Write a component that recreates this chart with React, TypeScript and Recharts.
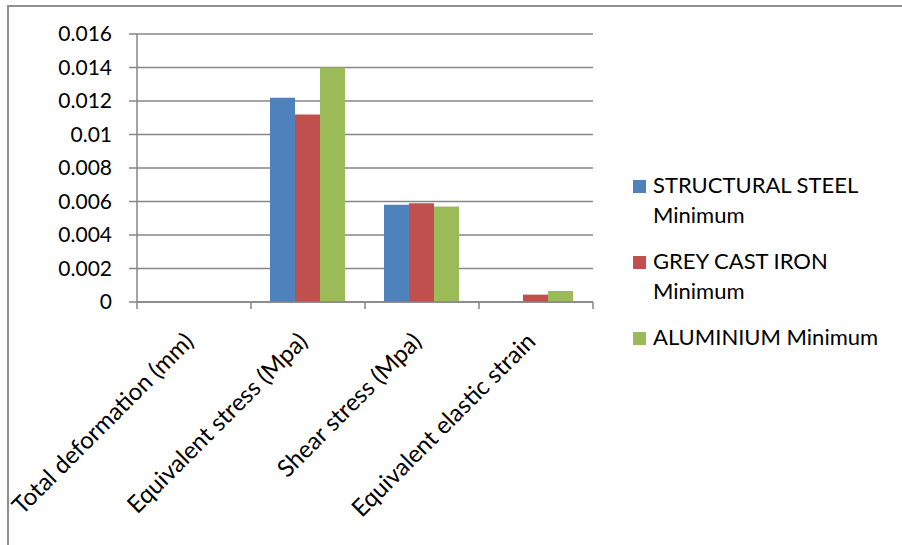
import { BarChart, Bar, CartesianGrid, Legend, XAxis, YAxis } from 'recharts'

const CATEGORIES = [
  'Total deformation (mm)',
  'Equivalent stress (Mpa)',
  'Shear stress (Mpa)',
  'Equivalent elastic strain',
]
const STRUCTURAL_STEEL = [0, 0.0122, 0.0058, 0]
const GREY_CAST_IRON = [0, 0.0112, 0.0059, 0.00044]
const ALUMINIUM = [0, 0.014, 0.0057, 0.00066]
const Y_TICKS = [0, 0.002, 0.004, 0.006, 0.008, 0.01, 0.012, 0.014, 0.016]

const SERIES = [
  { key: 'steel', name: 'STRUCTURAL STEEL Minimum', color: '#4F81BD', values: STRUCTURAL_STEEL },
  { key: 'iron', name: 'GREY CAST IRON Minimum', color: '#C0504D', values: GREY_CAST_IRON },
  { key: 'alu', name: 'ALUMINIUM Minimum', color: '#9BBB59', values: ALUMINIUM },
]

const data = CATEGORIES.map((category, i) => {
  const row: Record<string, string | number> = { category }
  SERIES.forEach((s) => {
    row[s.key] = s.values[i]
  })
  return row
})

const FONT = 'Lato, "Open Sans", sans-serif'
const AXIS = '#868686'
const PLOT_LEFT = 137
const PLOT_RIGHT = 593
const BAND = (PLOT_RIGHT - PLOT_LEFT) / CATEGORIES.length

function CategoryTick(props: any) {
  const { x, y, payload, index } = props
  const left = x - BAND / 2
  const tx = x + 1
  const ty = y + 41
  return (
    <g>
      <line x1={left} y1={y} x2={left} y2={y + 7} stroke={AXIS} strokeWidth={1.5} />
      {index === CATEGORIES.length - 1 && (
        <line x1={x + BAND / 2} y1={y} x2={x + BAND / 2} y2={y + 7} stroke={AXIS} strokeWidth={1.5} />
      )}
      <text
        x={tx}
        y={ty}
        transform={`rotate(-45 ${tx} ${ty})`}
        textAnchor="end"
        fontSize={24}
        fontFamily={FONT}
        fill="#000"
      >
        {payload.value}
      </text>
    </g>
  )
}

function LegendContent() {
  return (
    <div style={{ fontFamily: FONT, fontSize: 22, lineHeight: '30px', color: '#000' }}>
      {SERIES.map((s) => (
        <div key={s.key} style={{ display: 'flex', alignItems: 'flex-start', marginBottom: 16 }}>
          <span
            style={{
              width: 13,
              height: 13,
              background: s.color,
              marginTop: 10,
              marginRight: 7,
              flex: 'none',
            }}
          />
          <span style={{ width: 240 }}>{s.name}</span>
        </div>
      ))}
    </div>
  )
}

export default function App() {
  return (
    <div
      style={{
        position: 'fixed',
        left: 0,
        top: 0,
        width: 902,
        height: 545,
        overflow: 'hidden',
        background: '#fff',
      }}
    >
      <div
        style={{
          position: 'absolute',
          left: 7,
          top: 5,
          width: 1000,
          height: 1000,
          border: '2px solid #8f8f8f',
        }}
      />
      <div style={{ position: 'absolute', left: 0, top: 0 }}>
        <BarChart
          width={902}
          height={545}
          data={data}
          margin={{ top: 34, right: 902 - PLOT_RIGHT, bottom: 203, left: 0 }}
          barGap={0}
          barCategoryGap={19}
        >
          <CartesianGrid vertical={false} stroke={AXIS} strokeWidth={1.5} />
          <XAxis
            dataKey="category"
            height={40}
            interval={0}
            tickLine={false}
            tickSize={0}
            tickMargin={0}
            axisLine={{ stroke: AXIS, strokeWidth: 1.5 }}
            tick={<CategoryTick />}
          />
          <YAxis
            width={PLOT_LEFT}
            domain={[0, 0.016]}
            ticks={Y_TICKS}
            interval={0}
            tickSize={8}
            tickMargin={17}
            axisLine={{ stroke: AXIS, strokeWidth: 1.5 }}
            tickLine={{ stroke: AXIS, strokeWidth: 1.5 }}
            tick={{ fill: '#000', fontSize: 21, fontFamily: FONT }}
          />
          <Legend
            layout="vertical"
            align="center"
            verticalAlign="middle"
            wrapperStyle={{ left: 633, top: 170, width: 268 }}
            content={<LegendContent />}
          />
          {SERIES.map((s) => (
            <Bar key={s.key} dataKey={s.key} name={s.name} fill={s.color} isAnimationActive={false} />
          ))}
        </BarChart>
      </div>
    </div>
  )
}
